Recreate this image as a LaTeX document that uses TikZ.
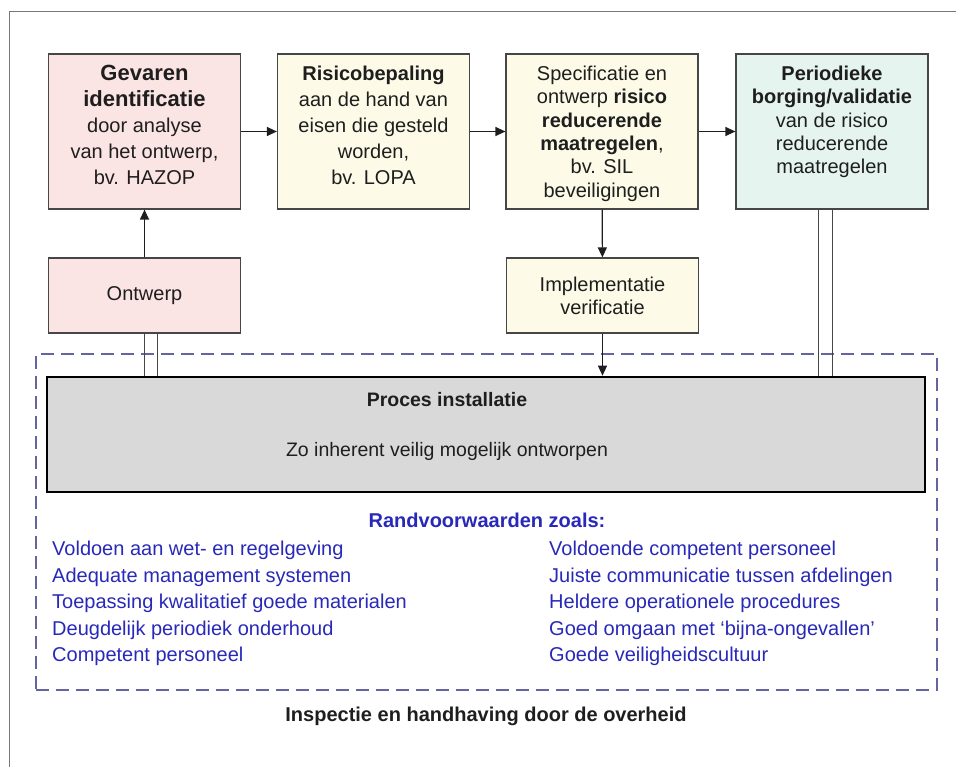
\documentclass[tikz,border=0pt]{standalone}
\usepackage{fontspec}
\setmainfont{Liberation Sans}
\usetikzlibrary{arrows.meta}
\definecolor{pinkfill}{RGB}{251,229,228}
\definecolor{yelfill}{RGB}{253,251,232}
\definecolor{cyanfill}{RGB}{230,244,240}
\definecolor{greyfill}{RGB}{217,217,217}
\definecolor{boxline}{RGB}{70,70,70}
\definecolor{txtdark}{RGB}{30,30,30}
\definecolor{listblue}{RGB}{40,40,185}
\definecolor{dashcol}{RGB}{100,100,160}
\definecolor{framecol}{RGB}{120,120,120}
\begin{document}
\begin{tikzpicture}[x=1pt,y=-1pt,
  procbox/.style={draw=boxline,line width=1.2pt,inner sep=0pt,minimum width=192pt},
  boxtext/.style={anchor=north,align=center,inner sep=0pt,text=txtdark},
  arr/.style={draw=txtdark,line width=1.2pt,-{Triangle[length=10pt,width=9pt]}},
  dbl/.style={draw=boxline,line width=1pt},
  bluetext/.style={text=listblue,inner sep=0pt,font=\fontsize{20}{26.5}\selectfont},
]
\useasboundingbox (0,0) rectangle (956,767);
% outer frame
\draw[framecol,line width=1pt] (9,767) -- (9,12) -- (956,12);

% top row boxes
\node[procbox,fill=pinkfill,minimum height=155pt] (g1) at (144.5,131.5) {};
\node[procbox,fill=yelfill,minimum height=155pt] (g2) at (373.5,131.5) {};
\node[procbox,fill=yelfill,minimum height=155pt] (g3) at (602,131.5) {};
\node[procbox,fill=cyanfill,minimum height=155pt] (g4) at (832,131.5) {};

\node[boxtext,font=\fontsize{20}{26}\selectfont] (t1) at (144.5,65) {{\fontsize{22}{26}\selectfont\bfseries Gevaren}\\{\fontsize{22}{26}\selectfont\bfseries identificatie}\\door analyse\\van het ontwerp,\\bv. HAZOP};
\node[boxtext,font=\fontsize{20}{26}\selectfont] (t2) at (373.5,66) {\textbf{Risicobepaling}\\aan de hand van\\eisen die gesteld\\worden,\\bv. LOPA};
\node[boxtext,font=\fontsize{20}{23.3}\selectfont] (t3) at (602,66) {Specificatie en\\ontwerp \textbf{risico}\\\textbf{reducerende}\\\textbf{maatregelen},\\bv. SIL\\beveiligingen};
\node[boxtext,font=\fontsize{20}{23.3}\selectfont] (t4) at (832,66) {\textbf{Periodieke}\\\textbf{borging/validatie}\\van de risico\\reducerende\\maatregelen};

% second row
\node[procbox,fill=pinkfill,minimum height=75pt,text=txtdark,font=\fontsize{20}{23}\selectfont] (ont) at (144.5,295.5) {Ontwerp};
\node[procbox,fill=yelfill,minimum height=75pt,text=txtdark,align=center,font=\fontsize{20}{23}\selectfont] (impl) at (602.5,295.5) {Implementatie\\verificatie};

% dashed frame
\node[draw=dashcol,line width=1.3pt,dash pattern=on 13pt off 7pt,minimum width=901pt,minimum height=336pt,inner sep=0pt] (cond) at (486.5,522) {};

% process installation
\node[draw=black,fill=greyfill,line width=2.6pt,minimum width=878pt,minimum height=115pt,inner sep=0pt] (proc) at (486,434.5) {};
\node[text=txtdark,inner sep=0pt,font=\fontsize{19.5}{23}\selectfont\bfseries] (proct) at (447,400) {Proces installatie};
\node[text=txtdark,inner sep=0pt,font=\fontsize{19.5}{23}\selectfont] (procs) at (447,451) {Zo inherent veilig mogelijk ontworpen};

% connectors
\draw[arr] (g1) -- (g2);
\draw[arr] (g2) -- (g3);
\draw[arr] (g3) -- (g4);
\draw[arr] (ont) -- (g1);
\draw[arr] (g3) -- (impl);
\draw[arr] (impl.south) -- (impl.south |- proc.north);
\draw[dbl] (ont.south) -- (ont.south |- proc.north);
\draw[dbl] ([xshift=13pt]ont.south) -- ([xshift=13pt]ont.south |- proc.north);
\draw[dbl] ([xshift=-14pt]g4.south) -- ([xshift=-14pt]g4.south |- proc.north);
\draw[dbl] (g4.south) -- (g4.south |- proc.north);

% conditions
\node[bluetext,font=\fontsize{20}{26.5}\selectfont\bfseries] (randt) at (487,520) {Randvoorwaarden zoals:};
\node[bluetext,anchor=north west,align=left] (listl) at (52,541) {Voldoen aan wet- en regelgeving\\Adequate management systemen\\Toepassing kwalitatief goede materialen\\Deugdelijk periodiek onderhoud\\Competent personeel};
\node[bluetext,anchor=north west,align=left] (listr) at (549,541) {Voldoende competent personeel\\Juiste communicatie tussen afdelingen\\Heldere operationele procedures\\Goed omgaan met ‘bijna-ongevallen’\\Goede veiligheidscultuur};

\node[text=txtdark,inner sep=0pt,font=\fontsize{20}{24}\selectfont\bfseries] (insp) at (486,716) {Inspectie en handhaving door de overheid};
\end{tikzpicture}
\end{document}
